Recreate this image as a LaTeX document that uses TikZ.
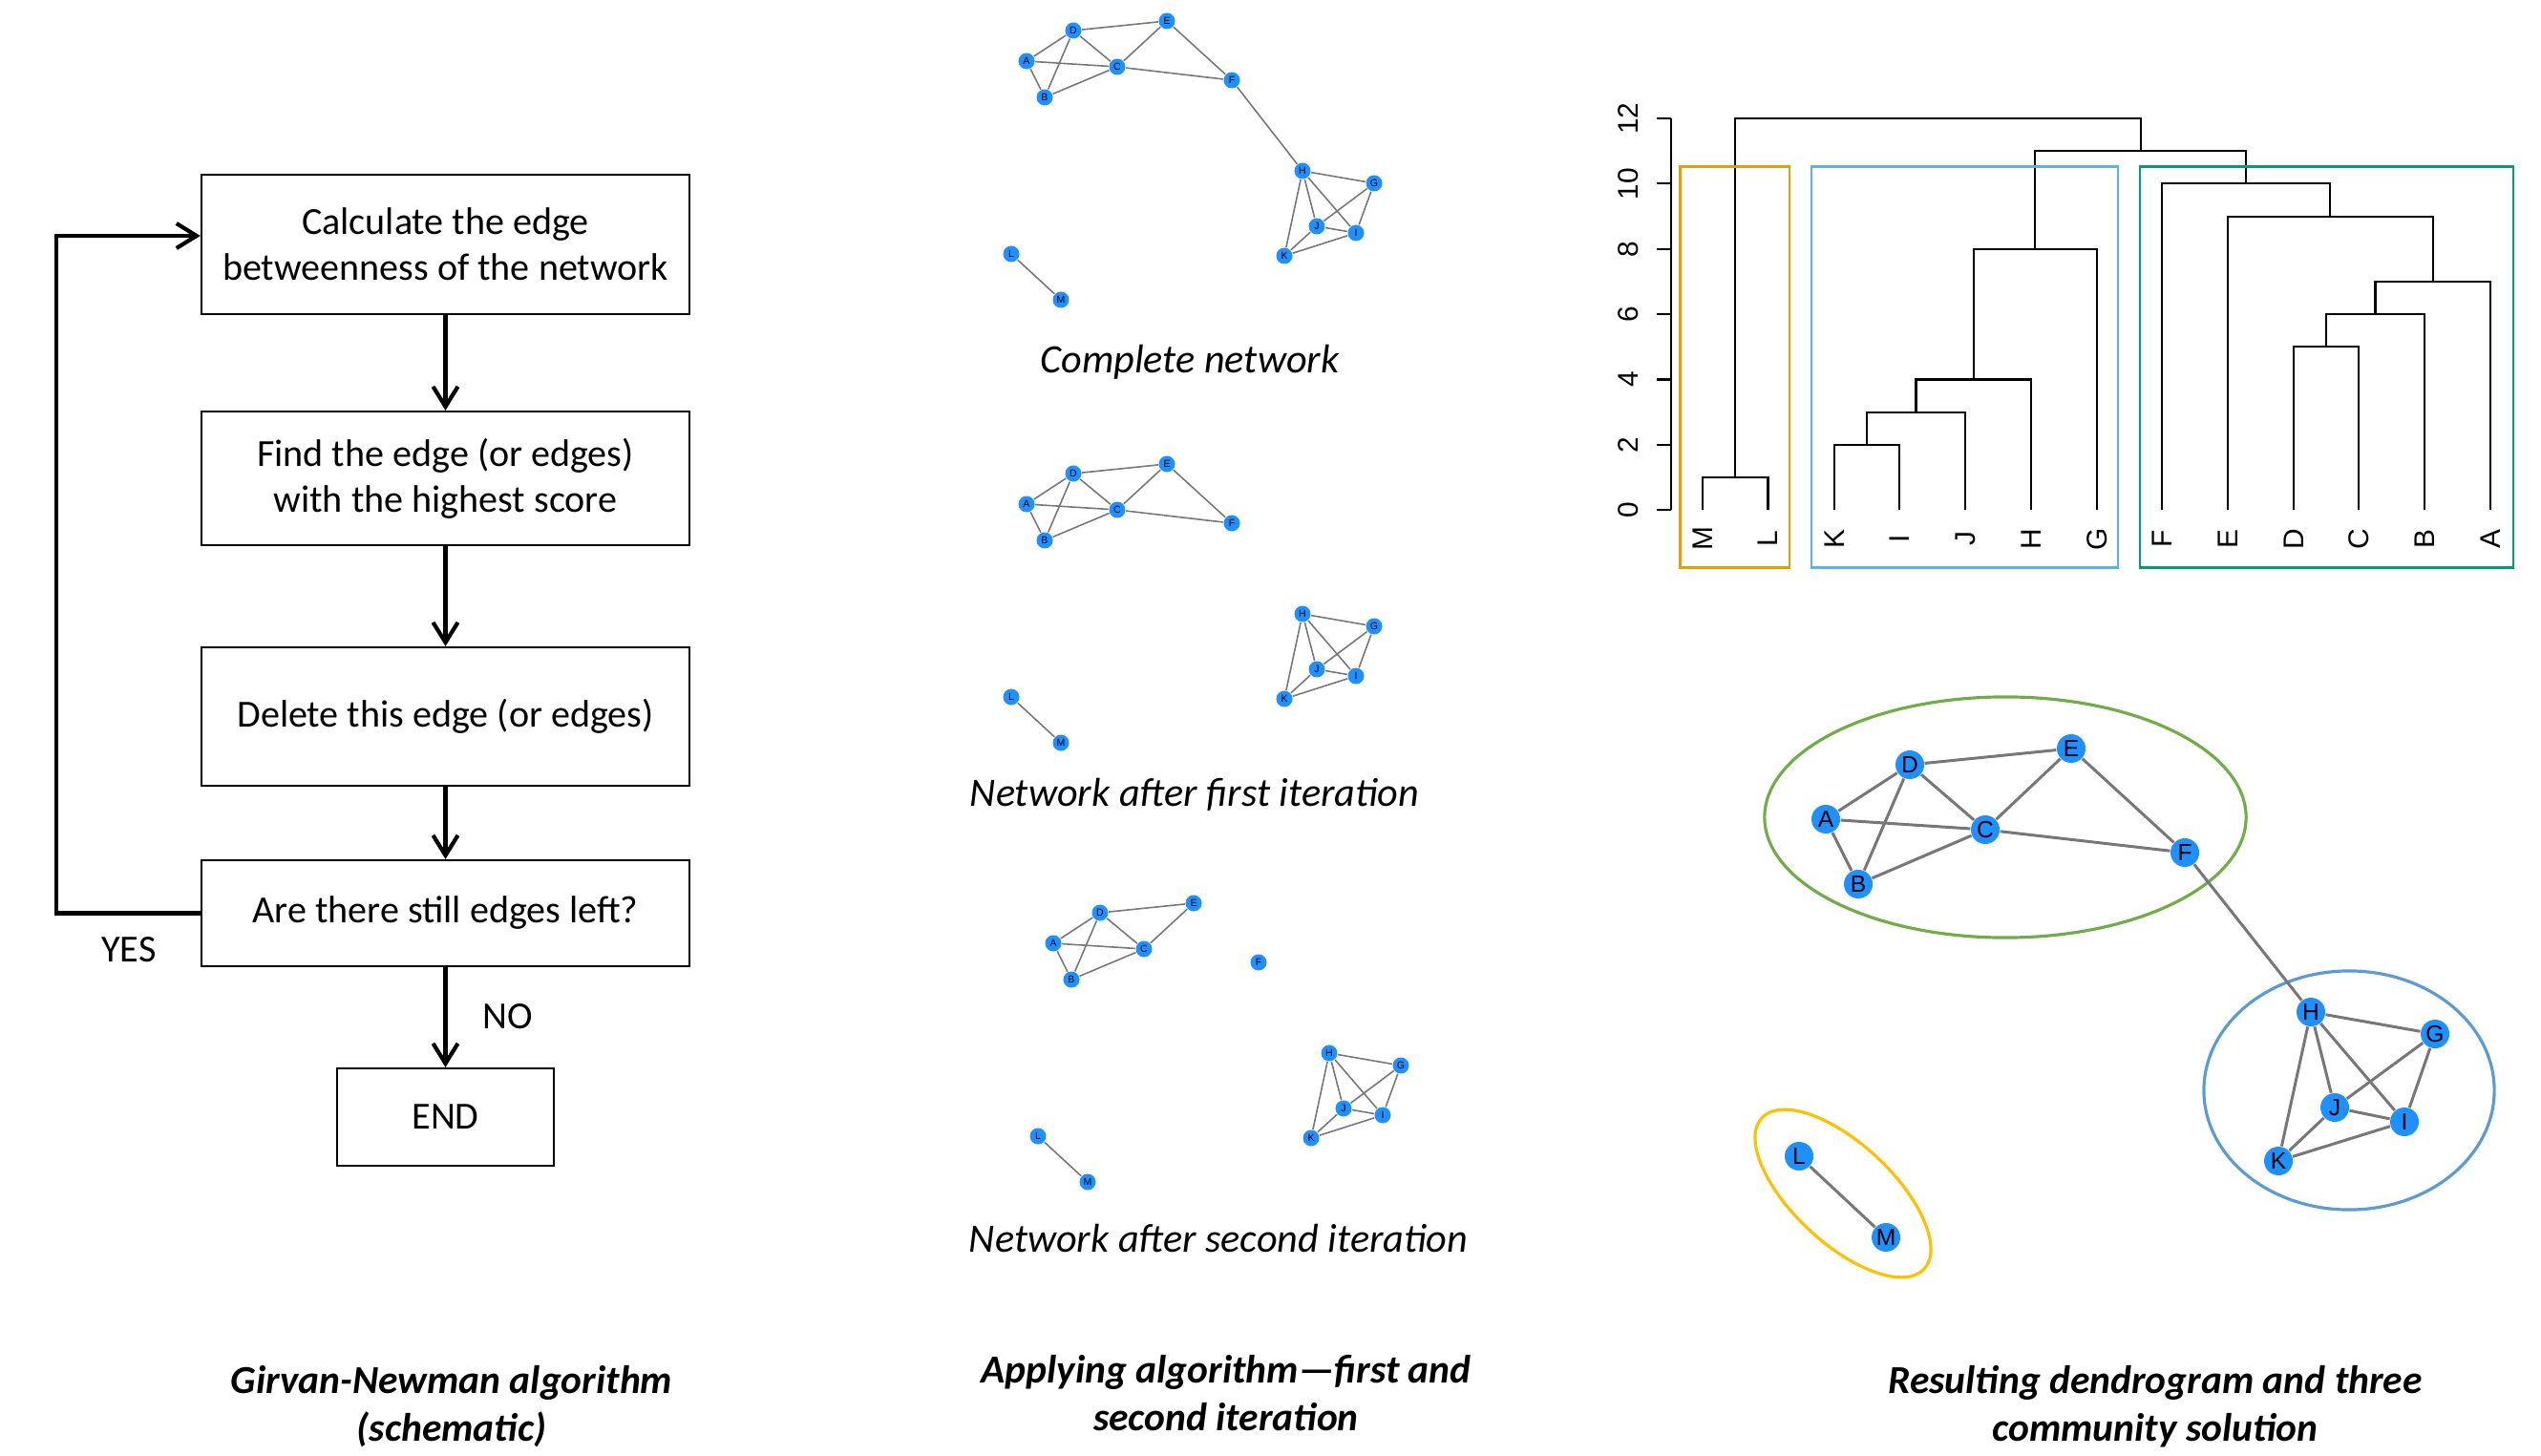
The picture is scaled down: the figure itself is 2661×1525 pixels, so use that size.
\documentclass[tikz,border=0pt]{standalone}
\usepackage{fontspec}
\setmainfont{Carlito}
\newfontfamily\arialfont{Liberation Sans}
\usepackage{xcolor}
\usepackage{tikz}
\usetikzlibrary{arrows.meta,shapes.geometric}
\definecolor{nodeblue}{HTML}{1E90FF}
\definecolor{edgegray}{HTML}{777777}
\definecolor{dgorange}{HTML}{E69F00}
\definecolor{dgblue}{HTML}{56B4E9}
\definecolor{dggreen}{HTML}{009E73}
\definecolor{cgreen}{HTML}{70AD47}
\definecolor{cblue}{HTML}{5B9BD5}
\definecolor{cyellow}{HTML}{FFC000}
\tikzset{NWnode/.style={shape=circle,fill=nodeblue,inner sep=0pt,minimum size=0.17cm,font=\arialfont\fontsize{3}{3}\selectfont}}
\tikzset{NWbig/.style={shape=circle,fill=nodeblue,inner sep=0pt,minimum size=0.30cm,font=\arialfont\fontsize{7}{7}\selectfont}}
\tikzset{NWedge/.style={draw=edgegray,line width=0.45pt}}
\tikzset{NWbigedge/.style={draw=edgegray,line width=0.85pt}}
\tikzset{FCbox/.style={draw,line width=0.6pt,minimum width=5.11cm,align=center,font=\fontsize{11.4}{13.7}\selectfont}}
\tikzset{FCarrow/.style={line width=1.2pt,-{Straight Barb[length=2.1mm,width=2.6mm]}}}
\tikzset{DGline/.style={line width=0.6pt}}
\tikzset{DGlabel/.style={rotate=90,font=\arialfont\fontsize{8.5}{8.5}\selectfont}}
\tikzset{caption/.style={align=center,font=\fontsize{11.8}{14.2}\selectfont\bfseries\itshape}}
\tikzset{subcaption/.style={font=\fontsize{12}{14}\selectfont\itshape}}

\begin{document}
\begin{tikzpicture}[x=0.01cm,y=-0.01cm]
	\useasboundingbox (0,0) rectangle (2661,1525);
	% flowchart
	\node[FCbox,minimum height=1.46cm] (calc) at (466.5,256) {Calculate the edge\\betweenness of the network};
	\node[FCbox,minimum height=1.40cm] (find) at (466.5,501) {Find the edge (or edges)\\with the highest score};
	\node[FCbox,minimum height=1.45cm] (del) at (466.5,750.5) {Delete this edge (or edges)};
	\node[FCbox,minimum height=1.11cm] (left) at (466.5,956.5) {Are there still edges left?};
	\node[FCbox,minimum width=2.27cm,minimum height=1.02cm] (end) at (466.5,1170) {END};
	\coordinate (loopB) at (59,956.5);
	\coordinate (loopT) at (59,247);
	\node[font=\fontsize{11.4}{13.7}\selectfont] (yes) at (135,995) {YES};
	\node[font=\fontsize{11.4}{13.7}\selectfont] (no) at (532,1065) {NO};
	%
	\draw [FCarrow] (calc) -- (find);
	\draw [FCarrow] (find) -- (del);
	\draw [FCarrow] (del) -- (left);
	\draw [FCarrow] (left) -- (end);
	\draw [FCarrow] (left.west) -- (loopB) -- (loopT) -- (loopT -| calc.west);
	% complete network
	\node[NWnode] (A1) at (1075,64) {A};
	\node[NWnode] (B1) at (1094,102) {B};
	\node[NWnode] (C1) at (1170,70) {C};
	\node[NWnode] (D1) at (1124,32) {D};
	\node[NWnode] (E1) at (1222,22) {E};
	\node[NWnode] (F1) at (1290,84) {F};
	\node[NWnode] (G1) at (1439,192) {G};
	\node[NWnode] (H1) at (1364,179) {H};
	\node[NWnode] (I1) at (1420,244) {I};
	\node[NWnode] (J1) at (1379,237) {J};
	\node[NWnode] (K1) at (1345,268) {K};
	\node[NWnode] (L1) at (1059,266) {L};
	\node[NWnode] (M1) at (1111,314) {M};
	%
	\draw [NWedge] (A1) edge (D1) edge (C1) edge (B1);
	\draw [NWedge] (D1) edge (B1) edge (C1) edge (E1);
	\draw [NWedge] (C1) edge (E1) edge (F1) edge (B1);
	\draw [NWedge] (F1) edge (E1) edge (H1);
	\draw [NWedge] (H1) edge (G1) edge (J1) edge (I1) edge (K1);
	\draw [NWedge] (G1) edge (J1) edge (I1);
	\draw [NWedge] (K1) edge (J1) edge (I1);
	\draw [NWedge] (J1) edge (I1);
	\draw [NWedge] (L1) edge (M1);
	\node[subcaption] (cap1) at (1246,379) {Complete network};
	% after first iteration
	\node[NWnode] (A2) at (1075,528) {A};
	\node[NWnode] (B2) at (1094,566) {B};
	\node[NWnode] (C2) at (1170,534) {C};
	\node[NWnode] (D2) at (1124,496) {D};
	\node[NWnode] (E2) at (1222,486) {E};
	\node[NWnode] (F2) at (1290,548) {F};
	\node[NWnode] (G2) at (1439,656) {G};
	\node[NWnode] (H2) at (1364,643) {H};
	\node[NWnode] (I2) at (1420,708) {I};
	\node[NWnode] (J2) at (1379,701) {J};
	\node[NWnode] (K2) at (1345,732) {K};
	\node[NWnode] (L2) at (1059,730) {L};
	\node[NWnode] (M2) at (1111,778) {M};
	%
	\draw [NWedge] (A2) edge (D2) edge (C2) edge (B2);
	\draw [NWedge] (D2) edge (B2) edge (C2) edge (E2);
	\draw [NWedge] (C2) edge (E2) edge (F2) edge (B2);
	\draw [NWedge] (F2) edge (E2);
	\draw [NWedge] (H2) edge (G2) edge (J2) edge (I2) edge (K2);
	\draw [NWedge] (G2) edge (J2) edge (I2);
	\draw [NWedge] (K2) edge (J2) edge (I2);
	\draw [NWedge] (J2) edge (I2);
	\draw [NWedge] (L2) edge (M2);
	\node[subcaption] (cap2) at (1251,832) {Network after first iteration};
	% after second iteration
	\node[NWnode] (A3) at (1103,988) {A};
	\node[NWnode] (B3) at (1122,1026) {B};
	\node[NWnode] (C3) at (1198,994) {C};
	\node[NWnode] (D3) at (1152,956) {D};
	\node[NWnode] (E3) at (1250,946) {E};
	\node[NWnode] (F3) at (1318,1008) {F};
	\node[NWnode] (G3) at (1467,1116) {G};
	\node[NWnode] (H3) at (1392,1103) {H};
	\node[NWnode] (I3) at (1448,1168) {I};
	\node[NWnode] (J3) at (1407,1161) {J};
	\node[NWnode] (K3) at (1373,1192) {K};
	\node[NWnode] (L3) at (1087,1190) {L};
	\node[NWnode] (M3) at (1139,1238) {M};
	%
	\draw [NWedge] (A3) edge (D3) edge (C3) edge (B3);
	\draw [NWedge] (D3) edge (B3) edge (C3) edge (E3);
	\draw [NWedge] (C3) edge (E3) edge (B3);
	\draw [NWedge] (H3) edge (G3) edge (J3) edge (I3) edge (K3);
	\draw [NWedge] (G3) edge (J3) edge (I3);
	\draw [NWedge] (K3) edge (J3) edge (I3);
	\draw [NWedge] (J3) edge (I3);
	\draw [NWedge] (L3) edge (M3);
	\node[subcaption] (cap3) at (1276,1297) {Network after second iteration};
	% dendrogram
	\begin{scope}[y=0.3417cm,shift={(0cm,-5.34cm)}]
		\draw [DGline] (1735,0) -- (1750,0) (1735,2) -- (1750,2) (1735,4) -- (1750,4) (1735,6) -- (1750,6)
			(1735,8) -- (1750,8) (1735,10) -- (1750,10) (1735,12) -- (1750,12) (1750,0) -- (1750,12);
		\node[DGlabel] (t0) at (1705,0) {0};
		\node[DGlabel] (t2) at (1705,2) {2};
		\node[DGlabel] (t4) at (1705,4) {4};
		\node[DGlabel] (t6) at (1705,6) {6};
		\node[DGlabel] (t8) at (1705,8) {8};
		\node[DGlabel] (t10) at (1705,10) {10};
		\node[DGlabel] (t12) at (1705,12) {12};
		%
		\draw [DGline] (1783,0) |- (1851.5,1) -- (1851.5,0);
		\draw [DGline] (1921,0) |- (1989,2) -- (1989,0);
		\draw [DGline] (1955,2) |- (2058,3) -- (2058,0);
		\draw [DGline] (2006.5,3) |- (2127,4) -- (2127,0);
		\draw [DGline] (2066.75,4) |- (2196,8) -- (2196,0);
		\draw [DGline] (2402,0) |- (2470,5) -- (2470,0);
		\draw [DGline] (2436,5) |- (2539,6) -- (2539,0);
		\draw [DGline] (2487.5,6) |- (2608,7) -- (2608,0);
		\draw [DGline] (2333,0) |- (2547.75,9) -- (2547.75,7);
		\draw [DGline] (2264,0) |- (2440.4,10) -- (2440.4,9);
		\draw [DGline] (2131.4,8) |- (2352.2,11) -- (2352.2,10);
		\draw [DGline] (1817.25,1) |- (2241.8,12) -- (2241.8,11);
		%
		\node[DGlabel] (lM) at (1783,-0.88) {M};
		\node[DGlabel] (lL) at (1851.5,-0.88) {L};
		\node[DGlabel] (lK) at (1921,-0.88) {K};
		\node[DGlabel] (lI) at (1989,-0.88) {I};
		\node[DGlabel] (lJ) at (2058,-0.88) {J};
		\node[DGlabel] (lH) at (2127,-0.88) {H};
		\node[DGlabel] (lG) at (2196,-0.88) {G};
		\node[DGlabel] (lF) at (2264,-0.88) {F};
		\node[DGlabel] (lE) at (2333,-0.88) {E};
		\node[DGlabel] (lD) at (2402,-0.88) {D};
		\node[DGlabel] (lC) at (2470,-0.88) {C};
		\node[DGlabel] (lB) at (2539,-0.88) {B};
		\node[DGlabel] (lA) at (2608,-0.88) {A};
		%
		\draw [dgorange,line width=0.7pt] (1759.5,-1.756) rectangle (1874,10.52);
		\draw [dgblue,line width=0.7pt] (1897,-1.756) rectangle (2218,10.52);
		\draw [dggreen,line width=0.7pt] (2241,-1.756) rectangle (2632,10.52);
	\end{scope}
	% three communities
	\draw [cgreen,line width=0.9pt] (2100,856) ellipse [x radius=2.52cm,y radius=1.26cm];
	\draw [cblue,line width=0.9pt] (2460,1142) ellipse [x radius=1.52cm,y radius=1.25cm];
	\draw [cyellow,line width=0.9pt,shift={(1930,1250)},rotate=-43] (0,0) ellipse [x radius=1.16cm,y radius=0.52cm];
	%
	\node[NWbig] (A4) at (1912,858) {A};
	\node[NWbig] (B4) at (1946,926) {B};
	\node[NWbig] (C4) at (2079,869) {C};
	\node[NWbig] (D4) at (2000,801) {D};
	\node[NWbig] (E4) at (2169,784) {E};
	\node[NWbig] (F4) at (2288,893) {F};
	\node[NWbig] (G4) at (2550,1083) {G};
	\node[NWbig] (H4) at (2420,1060) {H};
	\node[NWbig] (I4) at (2518,1175) {I};
	\node[NWbig] (J4) at (2445,1160) {J};
	\node[NWbig] (K4) at (2386,1216) {K};
	\node[NWbig] (L4) at (1884,1211) {L};
	\node[NWbig] (M4) at (1975,1296) {M};
	%
	\draw [NWbigedge] (A4) edge (D4) edge (C4) edge (B4);
	\draw [NWbigedge] (D4) edge (B4) edge (C4) edge (E4);
	\draw [NWbigedge] (C4) edge (E4) edge (F4) edge (B4);
	\draw [NWbigedge] (F4) edge (E4) edge (H4);
	\draw [NWbigedge] (H4) edge (G4) edge (J4) edge (I4) edge (K4);
	\draw [NWbigedge] (G4) edge (J4) edge (I4);
	\draw [NWbigedge] (K4) edge (J4) edge (I4);
	\draw [NWbigedge] (J4) edge (I4);
	\draw [NWbigedge] (L4) edge (M4);
	% captions
	\node[caption] (capL) at (473,1473) {Girvan-Newman algorithm\\(schematic)};
	\node[caption] (capM) at (1284,1459) {Applying algorithm---first and\\second iteration};
	\node[caption] (capR) at (2257,1473) {Resulting dendrogram and three\\community solution};
\end{tikzpicture}
\end{document}
